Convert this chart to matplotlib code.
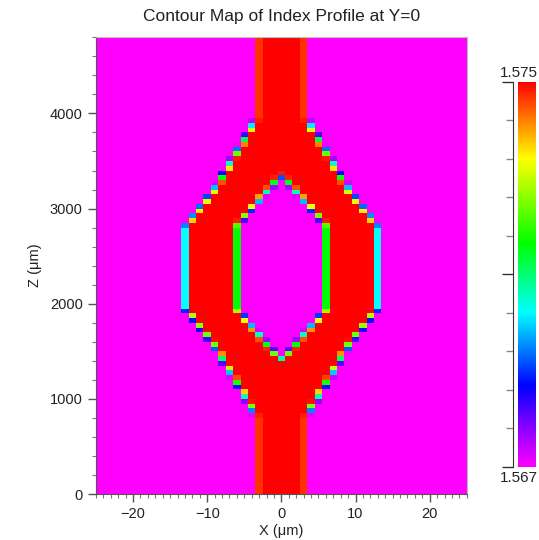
import numpy as np
import matplotlib.pyplot as plt
from matplotlib.colors import LinearSegmentedColormap

plt.rcParams['font.family'] = ['Liberation Sans', 'DejaVu Sans']

# Index range shown on the colour scale
n_clad = 1.567
n_core = 1.575

# Waveguide layout (symmetric in x and about z_center)
z_center = 2380
outer_d = [0, 440, 800, 1100, 1551, 2600]       # distance from z_center (um)
outer_x = [12.9, 12.9, 9.2, 6.9, 3.46, 3.46]     # half width of outer edge (um)
inner_d = [0, 445, 980, 2600]
inner_x = [5.92, 5.92, 0.0, 0.0]                 # half width of the inner gap (um)

# Simulation grid
x_edges = np.arange(-25.5, 25.6, 1.0)
z_edges = np.arange(0, 4801, 50)

# Colour scale stops (fraction, colour)
cmap_pos = [0.0, 0.10, 0.21, 0.40, 0.58, 0.80, 0.90, 1.0]
cmap_col = ['#ff00ff', '#8800ff', '#0000ff', '#00ffff', '#00ff00', '#ffff00', '#ff8000', '#ff0000']
cmap = LinearSegmentedColormap.from_list('bpm', list(zip(cmap_pos, cmap_col)))

# Fill fraction of every grid cell
sub_x, sub_z = 50, 4
xs = x_edges[:-1, None] + (np.arange(sub_x) + 0.5) / sub_x * np.diff(x_edges)[:, None]
zs = z_edges[:-1, None] + (np.arange(sub_z) + 0.5) / sub_z * np.diff(z_edges)[:, None]
d = np.abs(zs - z_center)
outer = np.interp(d, outer_d, outer_x)
inner = np.interp(d, inner_d, inner_x)
ax_ = np.abs(xs)[None, None, :, :]
inside = (ax_ < outer[:, :, None, None]) & (ax_ > inner[:, :, None, None])
frac = inside.mean(axis=(1, 3))
index = n_clad + frac * (n_core - n_clad)

fig = plt.figure(figsize=(5.39, 5.40), dpi=100)
ax = fig.add_axes([0.178, 0.085, 0.688, 0.846])
ax.pcolormesh(x_edges, z_edges, index, cmap=cmap, vmin=n_clad, vmax=n_core, shading='flat')
ax.set_xlim(-25, 25)
ax.set_ylim(0, 4800)
ax.set_xticks([-20, -10, 0, 10, 20])
ax.set_xticks(np.arange(-25, 26, 1), minor=True)
ax.set_yticks([0, 1000, 2000, 3000, 4000])
ax.set_yticks(np.arange(0, 4801, 200), minor=True)
ax.tick_params(which='major', length=6, width=1, color='#555555', labelsize=10.5, labelcolor='#222222')
ax.tick_params(which='minor', length=3, width=0.8, color='#777777')
for s in ['top', 'right']:
    ax.spines[s].set_color('#bbbbbb')
for s in ['left', 'bottom']:
    ax.spines[s].set_color('#555555')
ax.set_xlabel('X (\u03bcm)', fontsize=10.5, color='#222222', labelpad=2)
ax.set_ylabel('Z (\u03bcm)', fontsize=10.5, color='#222222', labelpad=6)
ax.set_title('Contour Map of Index Profile at Y=0', fontsize=12.5, color='#222222', pad=12)

# Colour bar
cax = fig.add_axes([0.961, 0.1357, 0.033, 0.713])
grad = np.linspace(n_clad, n_core, 256)[:, None]
cax.imshow(grad, aspect='auto', cmap=cmap, origin='lower',
           extent=[0, 1, n_clad, n_core], vmin=n_clad, vmax=n_core)
cax.set_axis_off()

sax = fig.add_axes([0.951, 0.1357, 0.001, 0.713])
sax.set_ylim(n_clad, n_core)
sax.set_xticks([])
sax.set_yticks([n_clad, (n_clad + n_core) / 2, n_core])
sax.set_yticks(np.linspace(n_clad, n_core, 11), minor=True)
sax.set_yticklabels([])
sax.tick_params(which='major', length=8, width=1, color='#333333')
sax.tick_params(which='minor', length=5, width=1, color='#888888')
for s in ['top', 'right', 'bottom']:
    sax.spines[s].set_visible(False)
sax.spines['left'].set_color('#333333')

fig.text(0.998, 0.851, '%.3f' % n_core, ha='right', va='bottom', fontsize=11, color='#222222')
fig.text(0.998, 0.128, '%.3f' % n_clad, ha='right', va='top', fontsize=11, color='#222222')

fig.savefig('out.png', dpi=100)
